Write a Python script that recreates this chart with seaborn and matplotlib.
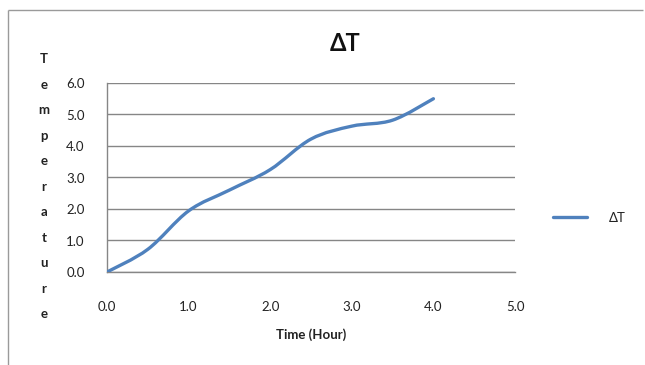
import matplotlib
matplotlib.use("Agg")
import numpy as np
import pandas as pd
import seaborn as sns
import matplotlib.pyplot as plt
from matplotlib.path import Path
from matplotlib.patches import PathPatch
from matplotlib.lines import Line2D

# ---- data ----
time_hours = [0.0, 0.5, 1.0, 1.5, 2.0, 2.5, 3.0, 3.5, 4.0]
delta_t = [0.0, 0.72, 1.94, 2.6, 3.25, 4.22, 4.63, 4.82, 5.5]
series_name = "ΔT"
title = "ΔT"
x_label = "Time (Hour)"
y_label = "Temperature"
x_ticks = [0.0, 1.0, 2.0, 3.0, 4.0, 5.0]
y_ticks = [0.0, 1.0, 2.0, 3.0, 4.0, 5.0, 6.0]

sns.set_style("white")
plt.rcParams["font.family"] = ["Lato", "DejaVu Sans"]

W, H = 645, 365
fig = plt.figure(figsize=(6.4501, 3.6501), dpi=100)
ax = fig.add_axes([107 / W, 1 - 272 / H, (515 - 107) / W, (272 - 83) / H])

line_color = "#4F81BD"
grid_color = "#868686"

df = pd.DataFrame({"Time": time_hours, "dT": delta_t})
sns.lineplot(data=df, x="Time", y="dT", ax=ax, color=line_color, lw=2.4,
             label=series_name, legend=False)

# Excel-style smoothed curve (Bezier) through the data points
pts = np.column_stack([time_hours, delta_t])
n = len(pts)
verts = [tuple(pts[0])]
codes = [Path.MOVETO]
for i in range(n - 1):
    p0 = pts[max(i - 1, 0)]
    p1 = pts[i]
    p2 = pts[i + 1]
    p3 = pts[min(i + 2, n - 1)]
    c1 = p1 + (p2 - p0) / 6.0
    c2 = p2 - (p3 - p1) / 6.0
    verts += [tuple(c1), tuple(c2), tuple(p2)]
    codes += [Path.CURVE4] * 3
patch = PathPatch(Path(verts, codes), facecolor="none", edgecolor=line_color,
                  lw=2.4, capstyle="round", joinstyle="round", zorder=3)
ax.add_patch(patch)

ax.set_xlim(0, 5)
ax.set_ylim(0, 6)
ax.set_xticks(x_ticks)
ax.set_yticks(y_ticks)
ax.set_xticklabels([f"{v:.1f}" for v in x_ticks])
ax.set_yticklabels([f"{v:.1f}" for v in y_ticks])
ax.set_xlabel("")
ax.set_ylabel("")

ax.grid(axis="y", color=grid_color, lw=1)
ax.grid(axis="x", visible=False)
ax.set_axisbelow(True)
for s in ["top", "right"]:
    ax.spines[s].set_visible(False)
for s in ["left", "bottom"]:
    ax.spines[s].set_color(grid_color)
    ax.spines[s].set_linewidth(1)
ax.tick_params(axis="both", which="major", direction="out", length=4,
               width=1, color=grid_color, labelsize=9.5, labelcolor="#222222")
ax.tick_params(axis="x", pad=17)
ax.tick_params(axis="y", pad=12)

# legend
leg = ax.legend(loc="center left", bbox_to_anchor=(1.064, 0.287), frameon=False,
                fontsize=9.5, handlelength=2.6, handletextpad=1.6)
for t in leg.get_texts():
    t.set_color("#222222")
ax.lines[0].set_visible(False)

# title
fig.text(345 / W, 1 - 43 / H, title, ha="center", va="center",
         fontsize=17, fontweight="bold", color="#111111")

# x label
fig.text(311 / W, 1 - 335 / H, x_label, ha="center", va="center",
         fontsize=9.5, fontweight="bold", color="#222222")

# vertically stacked y label
y0, step = 59, 25.5
for i, ch in enumerate(y_label):
    fig.text(44 / W, 1 - (y0 + i * step) / H, ch, ha="center", va="center",
             fontsize=9.5, fontweight="bold", color="#222222")

# outer chart border (top and left edges only)
bx, by = 7.5 / W, 1 - 10.5 / H
fig.add_artist(Line2D([bx, 0.997], [by, by], transform=fig.transFigure,
                      color="#9a9a9a", lw=1, solid_capstyle="butt"))
fig.add_artist(Line2D([bx, bx], [-0.01, by], transform=fig.transFigure,
                      color="#9a9a9a", lw=1, solid_capstyle="butt"))

fig.savefig("out.png", dpi=100, facecolor="white")
